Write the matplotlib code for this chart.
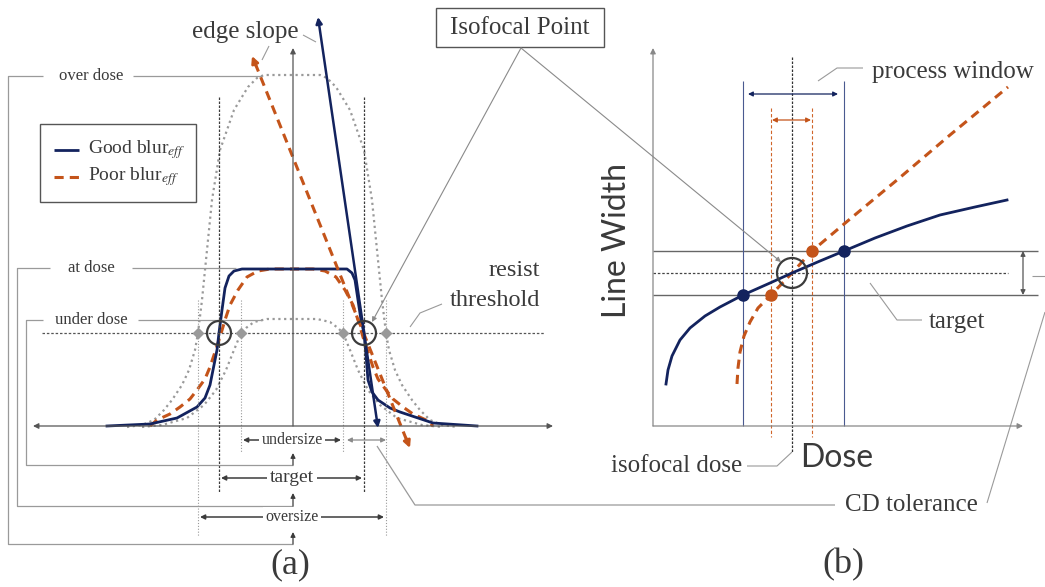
import matplotlib.pyplot as plt
from matplotlib.patches import Circle, Rectangle

# Diagram is laid out in image pixels (x right, y down), 1045 x 587.
NAVY = "#13235e"
ORANGE = "#c4541a"
GRAY = "#9a9a9a"
DARK = "#3c3c3c"
TEXT = "#3a3a3a"
SERIF = "Liberation Serif"
SANS = "Lato"

# ---- panel (a): resist profiles --------------------------------------------
GOOD_A_X = [107, 150, 177, 197, 205, 210, 214, 217, 219, 222, 225, 229, 234, 242,
            347, 352, 355, 358, 361, 364, 366, 368, 372, 378, 390, 400, 433, 477]
GOOD_A_Y = [426, 424, 418, 407, 398, 385, 365, 350, 333, 310, 288, 276, 271, 269,
            269, 273, 280, 300, 320, 333, 355, 380, 392, 400, 408, 412, 423, 426]

POOR_A_X = [150, 157, 170, 180, 190, 197, 205, 210, 215, 220, 225, 230, 238, 247, 258, 270,
            313, 325, 336, 345, 353, 358, 363, 368, 373, 378, 386, 393, 403, 413, 426, 433]
POOR_A_Y = [426, 420, 414, 407, 399, 390, 379, 367, 352, 337, 320, 305, 290, 277, 271, 269,
            269, 271, 277, 290, 305, 320, 337, 352, 367, 379, 390, 399, 407, 414, 420, 426]

OVER_Y = [427, 425, 420, 410, 400, 385, 370, 350, 333, 300, 250, 200, 150, 110, 87, 78, 75]
OVER_LEFT = [127, 142, 154, 164, 172, 182, 189, 195, 198, 202, 207, 212, 220, 234, 248, 257, 264]
OVER_RIGHT = [457, 442, 430, 420, 412, 402, 395, 389, 386, 382, 377, 372, 364, 350, 336, 327, 320]

UNDER_Y = [427, 425, 418, 405, 390, 370, 350, 333, 328, 322, 319]
UNDER_LEFT = [142, 162, 187, 204, 216, 226, 234, 241, 246, 254, 267]
UNDER_RIGHT = [442, 422, 397, 380, 368, 358, 350, 343, 338, 330, 317]

THRESHOLD_Y = 333
OVERSIZE_EDGES = [198, 386]
TARGET_EDGES = [219, 364]
UNDERSIZE_EDGES = [241, 343]

# ---- panel (b): line width vs dose -----------------------------------------
GOOD_B_X = [666, 668, 672, 680, 690, 705, 720, 743, 770, 792, 820, 844, 875, 907, 940, 975, 1007]
GOOD_B_Y = [384, 370, 356, 340, 328, 316, 307, 295, 283, 273, 261, 251, 238, 226, 215, 207, 200]
POOR_B_X = [737, 738, 740, 744, 750, 758, 771, 792, 812, 850, 897, 950, 1008]
POOR_B_Y = [384, 368, 352, 336, 322, 308, 295, 273, 251, 219, 180, 135, 87]

CD_UPPER, CD_TARGET, CD_LOWER = 251, 273, 295
GOOD_WINDOW = [743, 844]
POOR_WINDOW = [771, 812]
ISOFOCAL_DOSE = 792


def line(ax, pts, color=GRAY, lw=0.9, ls="-", **kw):
    xs, ys = zip(*pts)
    ax.plot(xs, ys, color=color, lw=lw, linestyle=ls, solid_capstyle="butt", **kw)


def arrow(ax, start, end, color=DARK, lw=0.9, style="-|>", ms=8):
    ax.annotate("", xy=end, xytext=start,
                arrowprops=dict(arrowstyle=style, color=color, lw=lw,
                                shrinkA=0, shrinkB=0, mutation_scale=ms))


def label(ax, x, y, s, size=18, ha="center", family=SERIF, **kw):
    ax.text(x, y, s, fontsize=size, ha=ha, va="center", color=TEXT, family=family, **kw)


def draw_panel_a(ax):
    dotted = (0, (1, 1.6))
    # axes
    arrow(ax, (33, 426), (553, 426), color="#555555", style="<|-|>")
    arrow(ax, (293, 426), (293, 48), color="#555555")

    # dose profiles
    ax.plot(OVER_LEFT + OVER_RIGHT[::-1], OVER_Y + OVER_Y[::-1], color=GRAY, lw=1.6, ls=dotted)
    ax.plot(UNDER_LEFT + UNDER_RIGHT[::-1], UNDER_Y + UNDER_Y[::-1], color=GRAY, lw=1.6, ls=dotted)
    ax.plot(POOR_A_X, POOR_A_Y, color=ORANGE, lw=2.2, ls=(0, (3, 2)))
    ax.plot(GOOD_A_X, GOOD_A_Y, color=NAVY, lw=2.0)

    # threshold and edge guides
    line(ax, [(42, THRESHOLD_Y), (545, THRESHOLD_Y)], color="#555555", lw=0.9, ls=(0, (2, 1.5)))
    for x in OVERSIZE_EDGES:
        line(ax, [(x, 300), (x, 536)], lw=0.8, ls=dotted)
    for x in UNDERSIZE_EDGES:
        line(ax, [(x, 300), (x, 453)], lw=0.8, ls=dotted)
    for x in TARGET_EDGES:
        line(ax, [(x, 97), (x, 493)], color=DARK, lw=0.9, ls=(0, (2, 1.2)))
    for x in OVERSIZE_EDGES + UNDERSIZE_EDGES:
        ax.plot(x, THRESHOLD_Y, marker="D", ms=6.5, color=GRAY, mec="none")
    for x in TARGET_EDGES:
        ax.add_patch(Circle((x, THRESHOLD_Y), 12, fill=False, ec=DARK, lw=1.6, zorder=5))

    # edge slope arrows
    arrow(ax, (378, 428), (318, 17), color=NAVY, lw=1.8, style="<|-|>", ms=9)
    line(ax, [(255, 63), (407, 441)], color=ORANGE, lw=2.2, ls=(0, (3, 2)))
    arrow(ax, (256, 66), (252, 56), color=ORANGE, lw=2, ms=10)
    arrow(ax, (406, 438), (410, 448), color=ORANGE, lw=2, ms=10)
    label(ax, 245, 32, "edge slope")
    line(ax, [(262, 60), (269, 46)], lw=0.8)
    line(ax, [(303, 35), (316, 42)], lw=0.8)

    # dose brackets
    brackets = [("over dose", 76, 8, 544, 532, 43, 133, 262),
                ("at dose", 268, 17, 506, 493, 50, 132, 236),
                ("under dose", 320, 26, 465, 453, 43, 138, 262)]
    for name, y, x0, ybot, ytip, xl, xr, xend in brackets:
        line(ax, [(xl, y), (x0, y), (x0, ybot), (293, ybot)], lw=0.9)
        line(ax, [(xr, y), (xend, y)], lw=0.9)
        arrow(ax, (293, ybot), (293, ytip), lw=0.9, ms=7)
        label(ax, 91, y, name, size=12)

    # size dimensions
    dims = [("undersize", UNDERSIZE_EDGES, 440, 11.5),
            ("target", TARGET_EDGES, 478, 14),
            ("oversize", OVERSIZE_EDGES, 517, 11.5)]
    for name, (x0, x1), y, size in dims:
        arrow(ax, (x0 + 2, y), (x1 - 2, y), lw=1.1, style="<|-|>", ms=7)
        label(ax, 292, y, name, size=size,
              bbox=dict(boxstyle="square,pad=0.15", fc="white", ec="none"))
    arrow(ax, (347, 440), (386, 440), color="#8a8a8a", lw=0.9, style="<|-|>", ms=7)

    # legend
    ax.add_patch(Rectangle((40, 124), 156, 78, fill=False, ec="#555555", lw=1))
    line(ax, [(54, 150), (79, 150)], color=NAVY, lw=2.0)
    line(ax, [(54, 177), (79, 177)], color=ORANGE, lw=2.2, ls=(0, (3, 2)))
    label(ax, 88, 150, r"Good blur$_{eff}$", size=14, ha="left")
    label(ax, 88, 177, r"Poor blur$_{eff}$", size=14, ha="left")

    # resist threshold
    label(ax, 540, 270, "resist", size=17.5, ha="right")
    label(ax, 540, 301, "threshold", size=17.5, ha="right")
    line(ax, [(410, 327), (420, 313), (442, 304)], lw=0.8)

    label(ax, 290, 565, "(a)", size=26)


def draw_panel_b(ax):
    # axes
    arrow(ax, (653, 426), (653, 48), color="#888888")
    arrow(ax, (653, 426), (1023, 426), color="#888888")

    # CD tolerance band
    line(ax, [(653, CD_UPPER), (1038, CD_UPPER)], color="#666666", lw=1.0)
    line(ax, [(653, CD_LOWER), (1038, CD_LOWER)], color="#666666", lw=1.0)
    line(ax, [(653, CD_TARGET), (1008, CD_TARGET)], color="#444444", lw=0.9, ls=(0, (2, 1.5)))
    arrow(ax, (1023, CD_UPPER), (1023, CD_LOWER), color="#555555", style="<|-|>", ms=7)

    # process windows
    for x in GOOD_WINDOW:
        line(ax, [(x, 81), (x, 426)], color="#4a5a90", lw=0.8)
    for x in POOR_WINDOW:
        line(ax, [(x, 108), (x, 437)], color="#d0652a", lw=0.8, ls=(0, (3, 2)))
    line(ax, [(ISOFOCAL_DOSE, 57), (ISOFOCAL_DOSE, 452)], color="#333333", lw=0.9, ls=(0, (2, 1.2)))
    arrow(ax, (GOOD_WINDOW[0] + 5, 94), (GOOD_WINDOW[1] - 6, 94), color=NAVY, style="<|-|>", ms=7)
    arrow(ax, (POOR_WINDOW[0] + 1, 120), (POOR_WINDOW[1] - 1, 120), color=ORANGE, style="<|-|>", ms=7)

    # curves
    ax.plot(POOR_B_X, POOR_B_Y, color=ORANGE, lw=2.2, ls=(0, (3, 2)))
    ax.plot(GOOD_B_X, GOOD_B_Y, color=NAVY, lw=2.0)
    ax.plot(GOOD_WINDOW, [CD_LOWER, CD_UPPER], "o", ms=8, color=NAVY, zorder=6)
    ax.plot(POOR_WINDOW, [CD_LOWER, CD_UPPER], "o", ms=8, color=ORANGE, zorder=6)
    ax.add_patch(Circle((ISOFOCAL_DOSE, CD_TARGET), 15, fill=False, ec=DARK, lw=1.6, zorder=7))

    # labels
    label(ax, 617, 240, "Line Width", size=23, family=SANS, rotation=90)
    label(ax, 837, 458, "Dose", size=23, family=SANS)
    label(ax, 953, 72, "process window")
    line(ax, [(818, 81), (837, 68), (863, 68)], lw=0.8)
    label(ax, 677, 466, "isofocal dose")
    line(ax, [(747, 466), (777, 466), (ISOFOCAL_DOSE, 452)], lw=0.8)
    label(ax, 957, 322, "target")
    line(ax, [(870, 283), (897, 320), (922, 320)], lw=0.8)

    label(ax, 843, 565, "(b)", size=26)


def main():
    plt.rcParams["mathtext.fontset"] = "stix"
    fig = plt.figure(figsize=(10.45, 5.87), dpi=100)
    ax = fig.add_axes([0, 0, 1, 1])
    ax.set_xlim(0, 1045)
    ax.set_ylim(587, 0)
    ax.axis("off")

    draw_panel_a(ax)
    draw_panel_b(ax)

    # shared callouts
    ax.add_patch(Rectangle((436, 8), 168, 39, fill=False, ec="#555555", lw=1))
    label(ax, 520, 28, "Isofocal Point")
    arrow(ax, (521, 48), (372, 322), color="#8a8a8a", lw=0.8, ms=7)
    arrow(ax, (521, 48), (781, 262), color="#8a8a8a", lw=0.8, ms=7)

    line(ax, [(377, 446), (415, 505), (835, 505)], lw=0.9)
    label(ax, 911, 505, "CD tolerance")
    line(ax, [(987, 503), (1045, 312)], lw=0.8)
    line(ax, [(1032, 276), (1045, 276)], lw=0.8)

    fig.savefig("out.png", dpi=100)
    plt.close(fig)


if __name__ == "__main__":
    main()
